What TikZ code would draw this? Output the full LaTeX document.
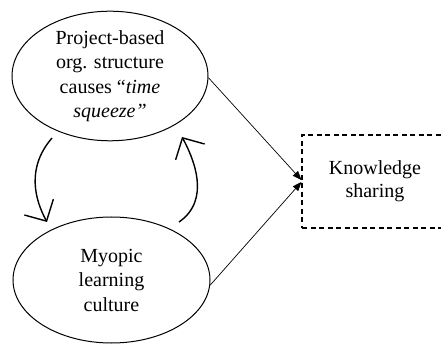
\documentclass[tikz,border=0pt]{standalone}
\usepackage{fontspec}
\setmainfont{Liberation Serif}
\usetikzlibrary{shapes.geometric,arrows.meta}

\tikzset{
  bubble/.style={ellipse, draw, line width=1pt, inner sep=0pt, align=center,
    font=\fontsize{20}{24.5}\selectfont},
  outcome/.style={rectangle, draw, line width=1.1pt, dash pattern=on 5pt off 3.5pt,
    align=center, font=\fontsize{20}{23}\selectfont},
  effect/.style={line width=0.7pt, -{Triangle[length=9pt,width=7pt]}},
  loop/.style={line width=1.4pt, -{Straight Barb[length=16pt,width=33pt,line width=1.4pt]}}
}

\begin{document}
\begin{tikzpicture}[x=1pt,y=-1pt]
  \useasboundingbox (0,0) rectangle (441,344);
  \clip (0,0) rectangle (441,344);

  % the two causes
  \node[bubble, minimum width=196pt, minimum height=122pt] (proj) at (110,76)
    {Project-based\\org. structure\\causes “\textit{time}\\\textit{squeeze”}};
  \node[bubble, minimum width=197pt, minimum height=126pt] (myop) at (111.5,280)
    {Myopic\\learning\\culture};

  % the outcome, running past the right edge
  \node[outcome, minimum width=146pt, minimum height=93pt] (ks) at (375,181.5)
    {Knowledge\\sharing};

  % reinforcing loop between the causes
  \coordinate (loopAs) at (52,138);
  \coordinate (loopAe) at (47,222);
  \coordinate (loopBs) at (179,222);
  \coordinate (loopBe) at (182,137);
  \draw[loop] (loopAs) .. controls (26,168) and (35,200) .. (loopAe);
  \draw[loop] (loopBs) .. controls (211,200) and (194,159) .. (loopBe);

  % effects on knowledge sharing
  \draw[effect] (proj.-1) -- ([yshift=1.5pt]ks.west);
  \draw[effect] (myop.-3.5) -- ([yshift=-0.5pt]ks.west);
\end{tikzpicture}
\end{document}
